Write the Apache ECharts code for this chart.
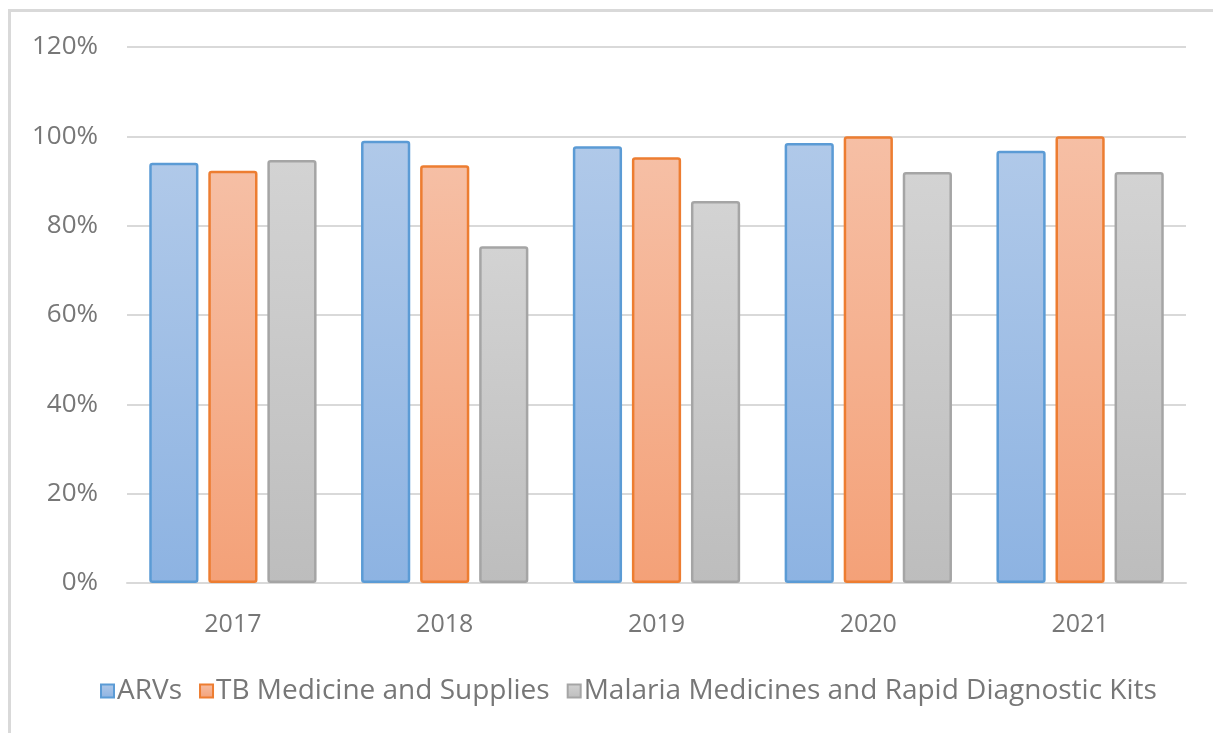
<!DOCTYPE html>
<html>
<head>
<meta charset="utf-8">
<script src="https://cdn.jsdelivr.net/npm/echarts@6/dist/echarts.min.js"></script>
<style>
  html, body { margin: 0; padding: 0; background: #fff; }
  #frame {
    position: absolute; left: 8px; top: 9px; width: 1220px; height: 740px;
    border-left: 3px solid #d9d9d9; border-top: 3px solid #d9d9d9;
  }
  #chart { position: absolute; left: 0; top: 0; width: 1213px; height: 733px; }
</style>
</head>
<body>
<div id="frame"></div>
<div id="chart"></div>
<script>
// categories and values (share)
const years = ['2017', '2018', '2019', '2020', '2021'];
const arvs = [0.941, 0.990, 0.978, 0.985, 0.968];
const tbMedicine = [0.923, 0.935, 0.953, 1.0, 1.0];
const malaria = [0.947, 0.754, 0.855, 0.920, 0.920];
const seriesNames = ['ARVs', 'TB Medicine and Supplies', 'Malaria Medicines and Rapid Diagnostic Kits'];

const textFont = '"Open Sans", "Liberation Sans", sans-serif';

function grad(top, bottom) {
  return new echarts.graphic.LinearGradient(0, 0, 0, 1, [
    { offset: 0, color: top },
    { offset: 1, color: bottom }
  ]);
}

const styles = [
  { fill: grad('#b0c9e9', '#8db3e2'), border: '#5b9bd5' },
  { fill: grad('#f6bfa5', '#f4a178'), border: '#ed7d31' },
  { fill: grad('#d3d3d3', '#bdbdbd'), border: '#a5a5a5' }
];

const myChart = echarts.init(document.getElementById('chart'));

const option = {
  animation: false,
  grid: { left: 127, right: 27, top: 47, bottom: 150 },
  legend: {
    left: 95,
    top: 672,
    icon: 'rect',
    itemWidth: 13,
    itemHeight: 13,
    itemGap: 17,
    textStyle: { color: '#777', fontSize: 28, fontFamily: textFont, padding: [0, 0, 0, -2] }
  },
  xAxis: {
    type: 'category',
    data: years,
    axisLine: { lineStyle: { color: '#d9d9d9', width: 2 } },
    axisTick: { show: false },
    axisLabel: { color: '#777', fontSize: 25, fontFamily: textFont, margin: 29 }
  },
  yAxis: {
    type: 'value',
    min: 0,
    max: 1.2,
    interval: 0.2,
    axisLine: { show: false },
    axisTick: { show: false },
    splitLine: { lineStyle: { color: '#d9d9d9', width: 2 } },
    axisLabel: {
      color: '#777', fontSize: 26, fontFamily: textFont, margin: 29,
      formatter: v => Math.round(v * 100) + '%'
    }
  },
  series: [arvs, tbMedicine, malaria].map((d, i) => ({
    name: seriesNames[i],
    type: 'bar',
    data: d,
    barGap: '20%',
    barCategoryGap: '21%',
    itemStyle: {
      color: styles[i].fill,
      borderColor: styles[i].border,
      borderWidth: 2.5,
      borderRadius: 2
    }
  }))
};

myChart.setOption(option);
window.addEventListener('resize', function () {
  myChart.resize();
});
</script>
</body>
</html>
